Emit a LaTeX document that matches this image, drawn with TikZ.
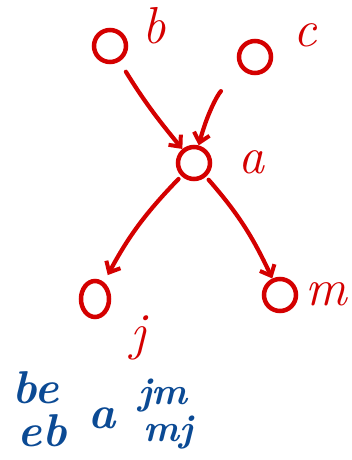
\documentclass[tikz,border=0pt]{standalone}
\usepackage{xcolor}
\usepackage{tikz}
\usetikzlibrary{arrows.meta,shapes.geometric}
\definecolor{inkred}{HTML}{D40000}
\definecolor{inkblue}{HTML}{0B4A94}

\begin{document}
\begin{tikzpicture}[
  x=1pt,y=-1pt,
  vert/.style={draw=inkred,line width=4.5pt,circle,inner sep=0pt,minimum size=32pt},
  lbl/.style={text=inkred,font=\fontsize{52}{52}\selectfont\itshape,inner sep=0pt},
  note/.style={text=inkblue,font=\fontsize{46}{46}\selectfont\itshape\bfseries,inner sep=0pt},
  smallnote/.style={text=inkblue,font=\fontsize{38}{38}\selectfont\itshape\bfseries,inner sep=0pt},
  edge/.style={-{Straight Barb[length=9pt,width=16pt,line width=4pt]},draw=inkred,line width=4.2pt,line cap=round},
]
\useasboundingbox (0,0) rectangle (351,460);

% vertices of the graph
\node[vert] (b) at (110,46) {};
\node[vert] (c) at (255,57) {};
\node[vert] (a) at (194,163) {};
\node[vert,ellipse,minimum width=28pt,minimum height=36pt] (j) at (95,299) {};
\node[vert] (m) at (280,295) {};

% vertex names
\node[lbl] (lb) at (154,26) {b};
\node[lbl] (lc) at (305,35) {c};
\node[lbl] (la) at (251,162) {a};
\node[lbl] (lj) at (138,338) {j};
\node[lbl] (lm) at (326,294) {m};

% edges
\draw[edge,shorten <=12pt] (b) to[bend right=4] (a);
\draw[edge,shorten <=30pt] (c) to[bend right=15] (a);
\draw[edge,shorten <=4pt,shorten >=8pt] (a) to[bend right=8] (j);
\draw[edge,shorten <=4pt] (a) to[bend left=8] (m);

% orders written below
\node[note] (be) at (36,388) {be};
\node[note] (eb) at (42,431) {eb};
\node[note] (na) at (102,418) {a};
\node[smallnote] (jm) at (163,396) {jm};
\node[smallnote] (mj) at (168,433) {mj};
\end{tikzpicture}
\end{document}
